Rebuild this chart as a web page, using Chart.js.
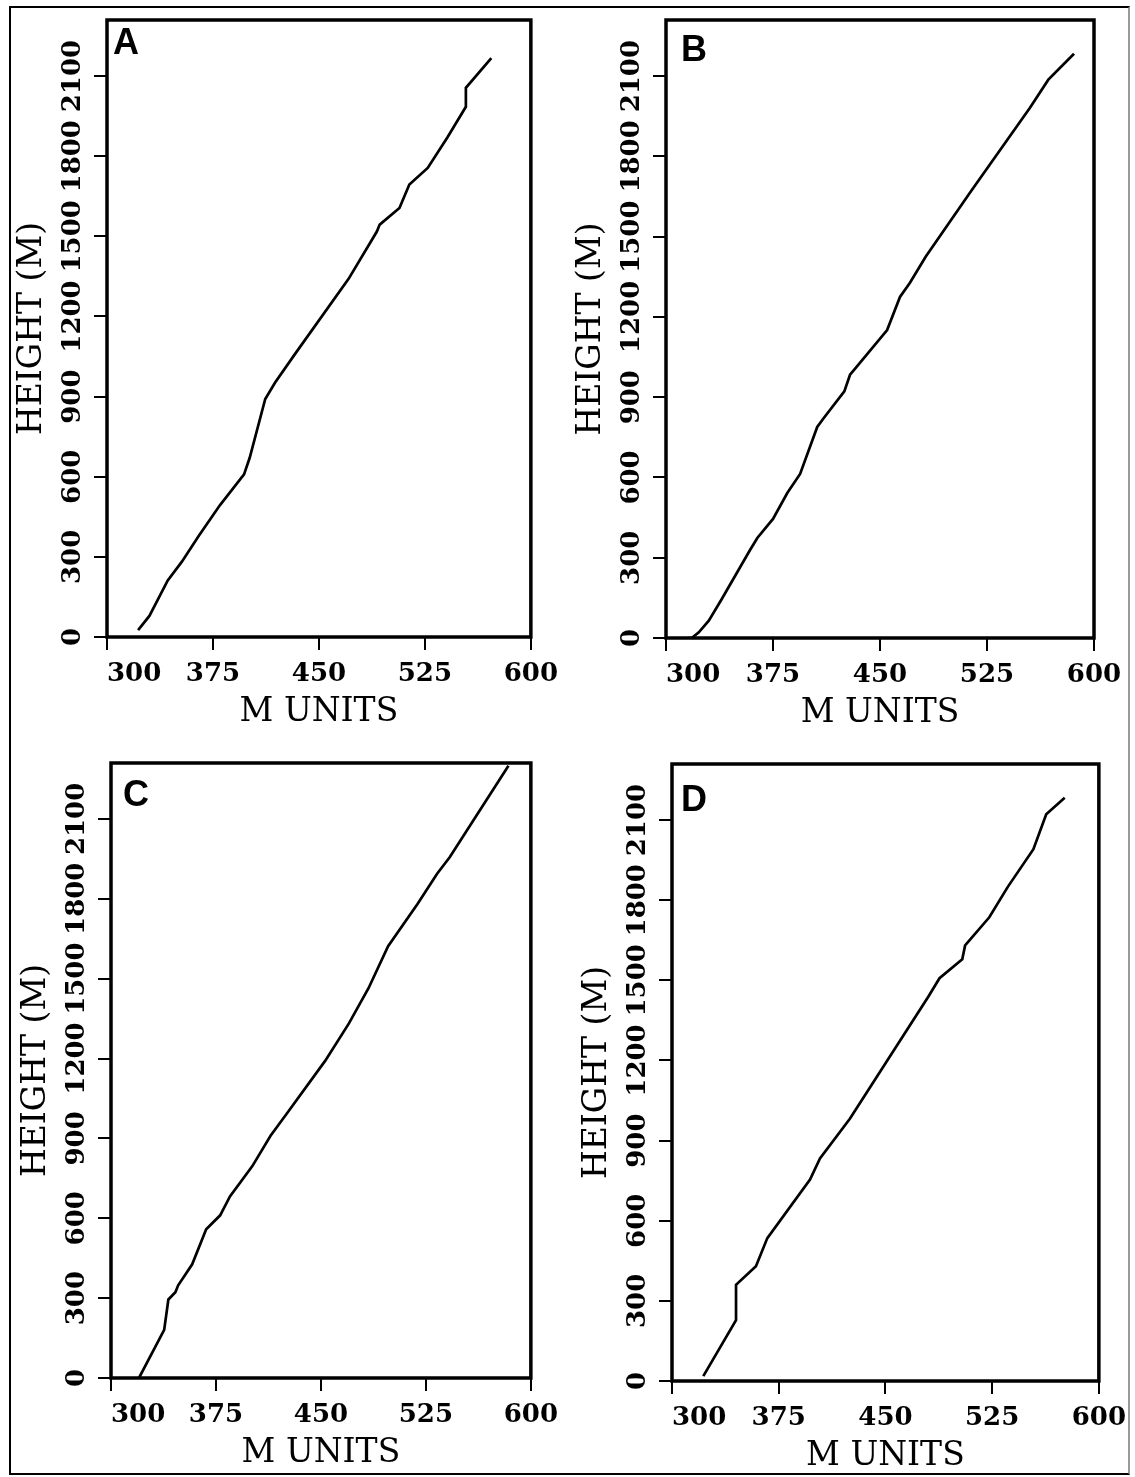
<!DOCTYPE html>
<html>
<head>
<meta charset="utf-8">
<title>Height vs M units</title>
<script src="https://cdn.jsdelivr.net/npm/chart.js@4.4.1/dist/chart.umd.min.js"></script>
<style>
  body { margin: 0; background: #fff; }
  #page { position: relative; width: 1135px; height: 1477px; background: #fff; overflow: hidden; }
  #outer { position: absolute; left: 9px; top: 6px; width: 1117px; height: 1465px; border: 2px solid #000; border-right-color: #999; }
  .panel { position: absolute; }
</style>
</head>
<body>
<div id="page">
  <div id="outer"></div>
  <div class="panel" id="boxA"><canvas id="chartA"></canvas></div>
  <div class="panel" id="boxB"><canvas id="chartB"></canvas></div>
  <div class="panel" id="boxC"><canvas id="chartC"></canvas></div>
  <div class="panel" id="boxD"><canvas id="chartD"></canvas></div>
</div>
<script>
// axis ticks and titles
const xTicks = [300, 375, 450, 525, 600];
const yTicks = [0, 300, 600, 900, 1200, 1500, 1800, 2100];
const xTitle = 'M UNITS';
const yTitle = 'HEIGHT (M)';
const panelLetters = ['A', 'B', 'C', 'D'];

// curves (M units, height in m)
const unitsA  = [322, 330, 343, 353, 365, 380, 397, 401, 412, 419, 433, 471, 491, 493, 507, 514, 527, 541, 554, 554, 572];
const heightA = [26, 79, 212, 282, 379, 494, 609, 671, 891, 953, 1059, 1341, 1518, 1544, 1606, 1694, 1756, 1871, 1985, 2056, 2167];

const unitsB  = [315, 318, 323, 330, 339, 359, 364, 375, 385, 394, 406, 411, 425, 429, 433, 455, 464, 471, 482, 514, 555, 568, 586];
const heightB = [0, 0, 21, 65, 145, 330, 374, 445, 542, 613, 789, 825, 922, 984, 1010, 1151, 1275, 1328, 1425, 1672, 1981, 2087, 2184];

const unitsC  = [320, 338, 341, 346, 348, 358, 368, 378, 385, 401, 414, 425, 453, 470, 484, 498, 519, 533, 542, 584];
const heightC = [0, 181, 295, 322, 348, 427, 559, 611, 682, 796, 910, 989, 1191, 1332, 1464, 1622, 1780, 1894, 1956, 2300];

const unitsD  = [322, 345, 345, 359, 367, 397, 404, 425, 480, 488, 504, 506, 523, 536, 554, 563, 576];
const heightD = [18, 228, 360, 430, 535, 754, 833, 982, 1438, 1508, 1579, 1631, 1736, 1850, 1991, 2122, 2184];

const series = [[unitsA, heightA], [unitsB, heightB], [unitsC, heightC], [unitsD, heightD]];

// page layout of the four panels
const yMax = 2310;
const layoutBoxes = [
  { left: 0,   top: 0,   w: 567, h: 740, area: { l: 107, r: 535, t: 20,  b: 637 },  letter: [6, 8] },
  { left: 567, top: 0,   w: 568, h: 740, area: { l: 666, r: 1094, t: 20, b: 638 },  letter: [15, 15] },
  { left: 0,   top: 740, w: 567, h: 737, area: { l: 111, r: 539, t: 763, b: 1378 }, letter: [12, 17] },
  { left: 567, top: 740, w: 568, h: 737, area: { l: 672, r: 1099, t: 764, b: 1381 }, letter: [9, 21] }
];

const tickFont = { family: '"DejaVu Serif"', size: 26, weight: 'bold' };
const titleFont = { family: '"DejaVu Serif"', size: 33, weight: 'normal' };
const yAxisW = 100, xAxisH = 95;

const measure = document.createElement('canvas').getContext('2d');
measure.font = 'bold 26px "DejaVu Serif"';
const widestY = Math.max(...yTicks.map(v => measure.measureText(String(v)).width));

const framePlugin = {
  id: 'frame',
  afterDatasetsDraw(chart, args, opts) {
    const { ctx, chartArea: a } = chart;
    ctx.save();
    ctx.strokeStyle = '#000';
    ctx.lineWidth = 3.5;
    ctx.strokeRect(a.left, a.top, a.right - a.left, a.bottom - a.top);
    ctx.fillStyle = '#000';
    ctx.font = 'bold 36px "Liberation Sans"';
    ctx.textBaseline = 'alphabetic';
    ctx.fillText(opts.letter, a.left + opts.dx, a.top + opts.dy + 26);
    ctx.restore();
  }
};

function makePanel(i) {
  const box = layoutBoxes[i];
  const holder = document.getElementById('box' + panelLetters[i]);
  holder.style.left = box.left + 'px';
  holder.style.top = box.top + 'px';
  const canvas = document.getElementById('chart' + panelLetters[i]);
  canvas.width = box.w;
  canvas.height = box.h;
  canvas.style.width = box.w + 'px';
  canvas.style.height = box.h + 'px';

  const [units, heights] = series[i];
  const points = units.map((u, k) => ({ x: u, y: heights[k] }));

  return new Chart(canvas, {
    type: 'line',
    data: {
      datasets: [{
        data: points,
        borderColor: '#000',
        borderWidth: 2.7,
        pointRadius: 0,
        tension: 0,
        fill: false
      }]
    },
    options: {
      responsive: false,
      animation: false,
      events: [],
      layout: {
        padding: {
          left: box.area.l - box.left - yAxisW,
          right: box.left + box.w - box.area.r,
          top: box.area.t - box.top,
          bottom: box.top + box.h - box.area.b - xAxisH
        }
      },
      scales: {
        x: {
          type: 'linear',
          min: 300,
          max: 600,
          afterBuildTicks: s => { s.ticks = xTicks.map(v => ({ value: v })); },
          afterFit: s => { s.height = xAxisH; },
          grid: { display: true, drawOnChartArea: false, drawTicks: true, tickLength: 13, lineWidth: 2, color: '#000' },
          border: { display: false },
          ticks: {
            autoSkip: false, minRotation: 0, maxRotation: 0, padding: 9, color: '#000', font: tickFont,
            callback: (v, k) => k === 0 ? '\u2007\u2007\u2007' + v : String(v)
          },
          title: { display: true, text: xTitle, color: '#000', font: titleFont, padding: { top: 0, bottom: 0 } }
        },
        y: {
          type: 'linear',
          min: 0,
          max: yMax,
          afterBuildTicks: s => { s.ticks = yTicks.map(v => ({ value: v })); },
          afterFit: s => { s.width = yAxisW; },
          grid: { display: true, drawOnChartArea: false, drawTicks: true, tickLength: 13, lineWidth: 2, color: '#000' },
          border: { display: false },
          ticks: {
            autoSkip: false, minRotation: 90, maxRotation: 90, crossAlign: 'center',
            padding: 21 - widestY / 2, color: '#000', font: tickFont,
            callback: v => String(v)
          },
          title: { display: true, text: yTitle, color: '#000', font: titleFont, padding: { top: 6, bottom: 0 } }
        }
      },
      plugins: {
        legend: { display: false },
        tooltip: { enabled: false },
        frame: { letter: panelLetters[i], dx: box.letter[0], dy: box.letter[1] }
      }
    },
    plugins: [framePlugin]
  });
}

for (let i = 0; i < 4; i++) makePanel(i);
</script>
</body>
</html>
